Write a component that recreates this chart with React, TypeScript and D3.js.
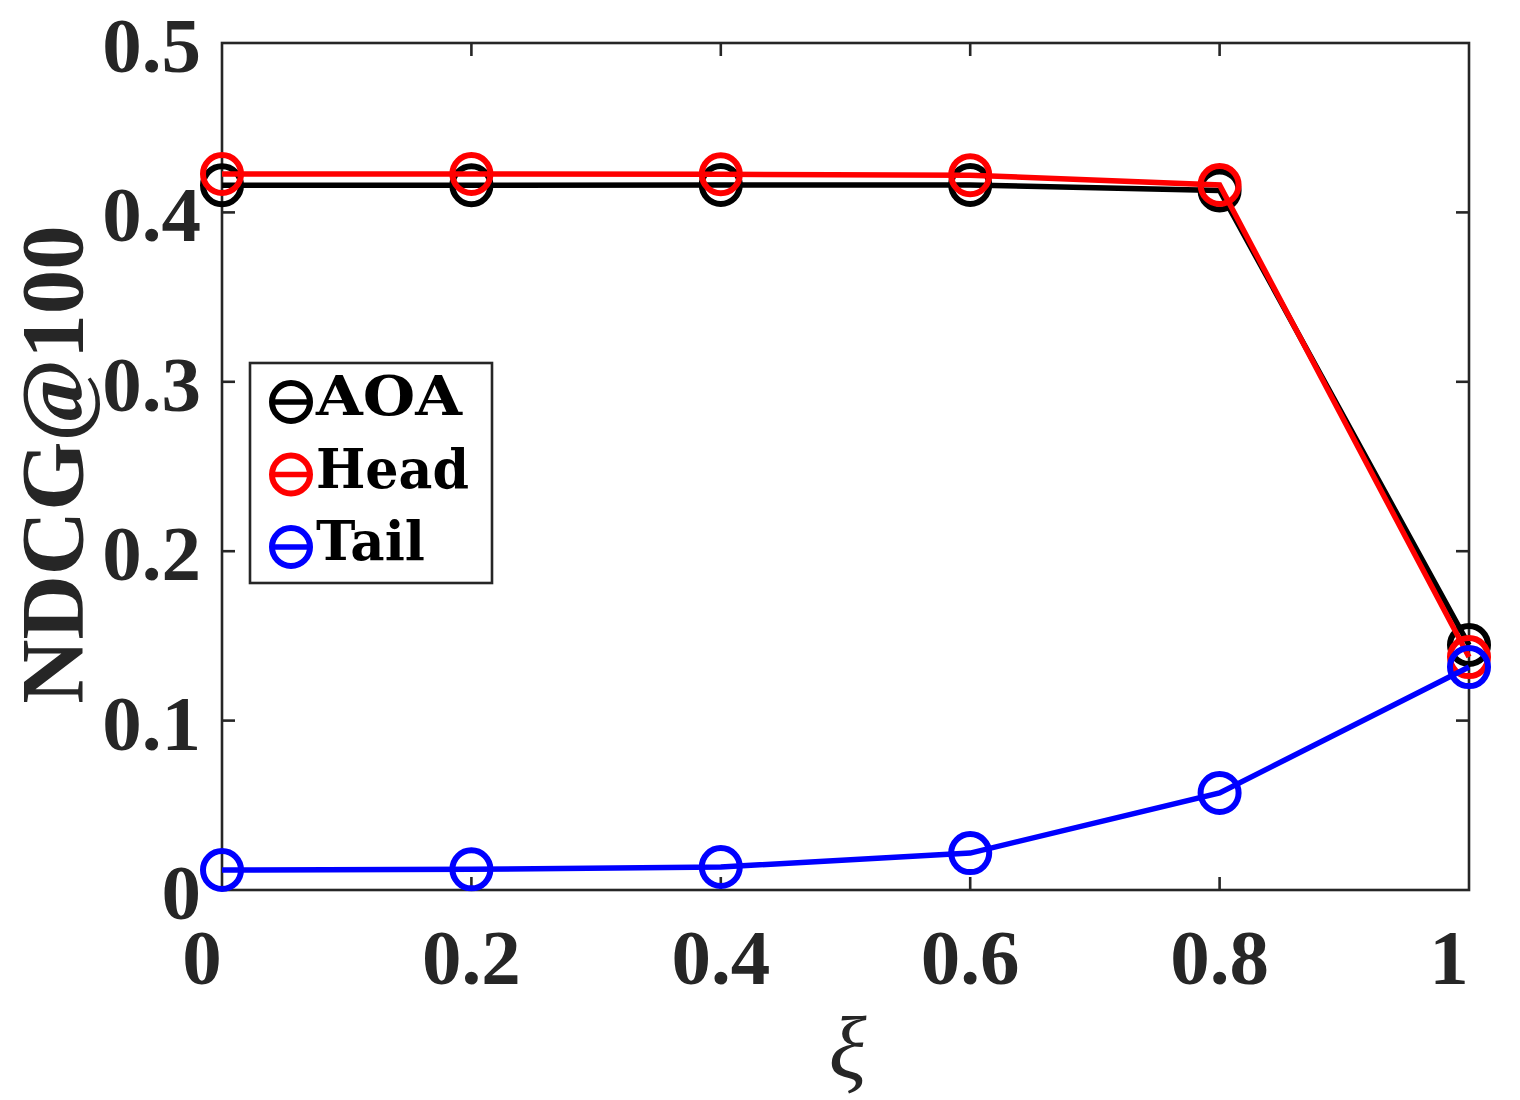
import React, { useEffect } from "react";
import * as d3 from "d3";

const xValues = [0, 0.2, 0.4, 0.6, 0.8, 1.0];
const aoaValues = [0.416, 0.416, 0.4162, 0.4162, 0.413, 0.1446];
const headValues = [0.4227, 0.4227, 0.4225, 0.422, 0.4162, 0.1375];
const tailValues = [0.0118, 0.0122, 0.0136, 0.0218, 0.0573, 0.1316];
const xTicks = [0, 0.2, 0.4, 0.6, 0.8, 1];
const xTickLabels = ["0", "0.2", "0.4", "0.6", "0.8", "1"];
const yTicks = [0, 0.1, 0.2, 0.3, 0.4, 0.5];
const yTickLabels = ["0", "0.1", "0.2", "0.3", "0.4", "0.5"];
const seriesNames = ["AOA", "Head", "Tail"];
const seriesColors = ["#000000", "#ff0000", "#0000ff"];

const W = 1520;
const H = 1100;
const L = 222, R = 1469, T = 43, B = 890;
const AX = "#262626";
const legendTextWidths = [146, 153, 109];

export default function App() {
  useEffect(() => {
    document.body.style.margin = "0";
  }, []);
  const x = d3.scaleLinear().domain([0, 1]).range([L, R]);
  const y = d3.scaleLinear().domain([0, 0.5]).range([B, T]);
  const line = d3
    .line<number>()
    .x((_, i) => x(xValues[i]))
    .y((d) => y(d));
  const series = [aoaValues, headValues, tailValues];
  const tickLen = 13;
  const tickFont = "'Liberation Serif', 'Times New Roman', serif";
  const legX = 250, legY = 363, legW = 242, legH = 220;
  return (
    <svg width={W} height={H} style={{ display: "block", background: "#fff" }}>
      <rect x={L} y={T} width={R - L} height={B - T} fill="none" stroke={AX} strokeWidth={2.6} />
      {xTicks.map((t, i) => (
        <g key={"xt" + i}>
          {i > 0 && i < xTicks.length - 1 && (
            <>
              <line x1={x(t)} x2={x(t)} y1={B} y2={B - tickLen} stroke={AX} strokeWidth={2.6} />
              <line x1={x(t)} x2={x(t)} y1={T} y2={T + tickLen} stroke={AX} strokeWidth={2.6} />
            </>
          )}
          <text
            x={x(t) + (i === 0 || i === xTicks.length - 1 ? -20 : 0)}
            y={984}
            textAnchor="middle"
            fontFamily={tickFont}
            fontWeight="bold"
            fontSize={79}
            fill={AX}
          >
            {xTickLabels[i]}
          </text>
        </g>
      ))}
      {yTicks.map((t, i) => (
        <g key={"yt" + i}>
          {i > 0 && i < yTicks.length - 1 && (
            <>
              <line x1={L} x2={L + tickLen} y1={y(t)} y2={y(t)} stroke={AX} strokeWidth={2.6} />
              <line x1={R} x2={R - tickLen} y1={y(t)} y2={y(t)} stroke={AX} strokeWidth={2.6} />
            </>
          )}
          <text
            x={201}
            y={y(t) + 29}
            textAnchor="end"
            fontFamily={tickFont}
            fontWeight="bold"
            fontSize={79}
            fill={AX}
          >
            {yTickLabels[i]}
          </text>
        </g>
      ))}
      <text
        transform={`translate(82,${(T + B) / 2 - 2}) rotate(-90)`}
        textAnchor="middle"
        fontFamily={tickFont}
        fontWeight="bold"
        fontSize={89}
        fill={AX}
      >
        NDCG@100
      </text>
      <text
        x={(L + R) / 2 + 2}
        y={1078}
        textAnchor="middle"
        fontFamily={tickFont}
        fontStyle="italic"
        fontSize={88}
        fill={AX}
      >
        ξ
      </text>
      {series.map((vals, si) => (
        <g key={"s" + si}>
          <path d={line(vals) || ""} fill="none" stroke={seriesColors[si]} strokeWidth={5.5} strokeLinejoin="miter" />
          {vals.map((v, i) => (
            <circle
              key={i}
              cx={x(xValues[i])}
              cy={y(v)}
              r={19}
              fill="none"
              stroke={seriesColors[si]}
              strokeWidth={6}
            />
          ))}
        </g>
      ))}
      <rect x={legX} y={legY} width={legW} height={legH} fill="#fff" stroke={AX} strokeWidth={2.6} />
      {seriesNames.map((name, i) => {
        const cy = legY + 39 + i * 72.5;
        return (
          <g key={"lg" + i}>
            <line x1={272} x2={310} y1={cy} y2={cy} stroke={seriesColors[i]} strokeWidth={5.5} />
            <circle cx={291} cy={cy} r={19} fill="none" stroke={seriesColors[i]} strokeWidth={6} />
            <text
              x={316}
              y={cy + 13}
              fontFamily="'DejaVu Serif', serif"
              fontWeight="bold"
              fontSize={55}
              textLength={legendTextWidths[i]}
              lengthAdjust="spacingAndGlyphs"
              fill="#000"
            >
              {name}
            </text>
          </g>
        );
      })}
    </svg>
  );
}
